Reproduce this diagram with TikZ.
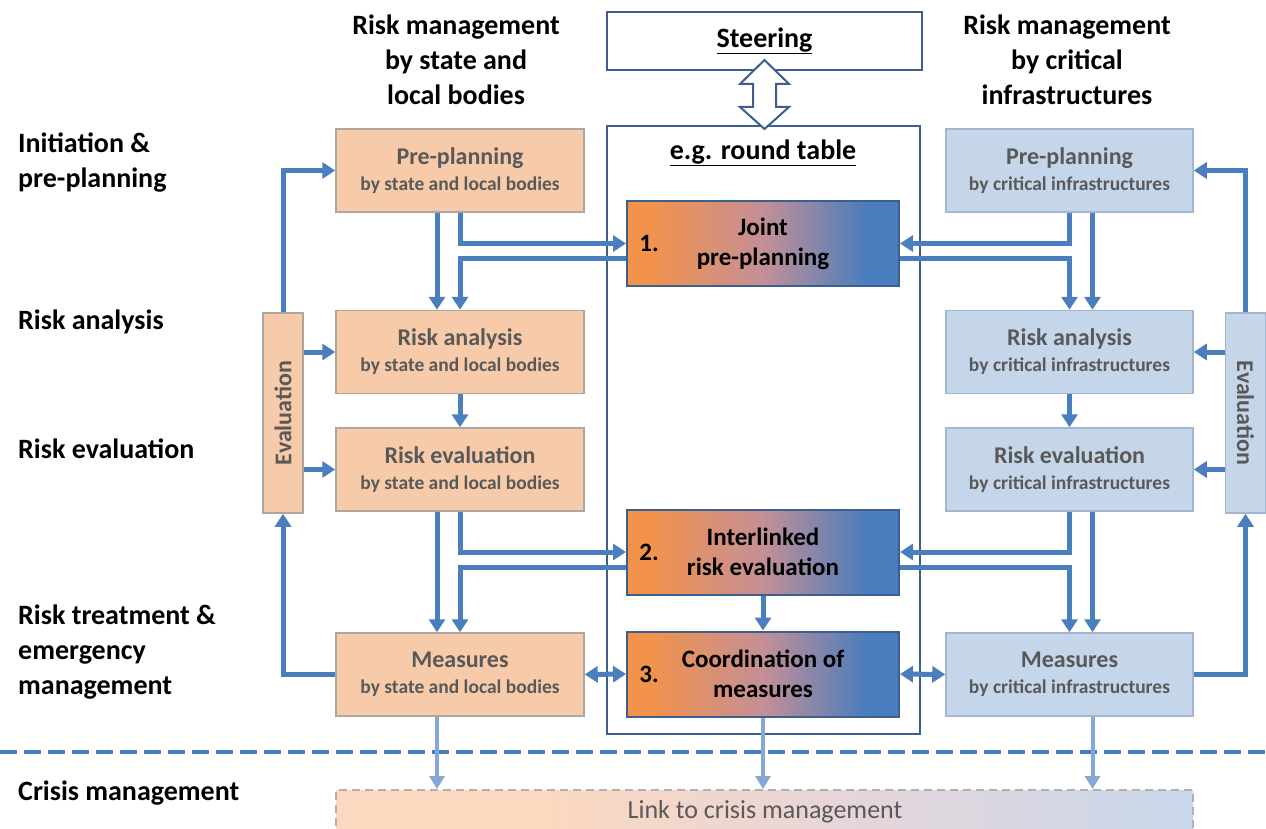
\documentclass[tikz,border=0pt]{standalone}
\usepackage{fontspec}
\usepackage{graphicx}
\setmainfont{Carlito}
\usetikzlibrary{arrows.meta,calc}

% palette
\definecolor{arrowBlue}{HTML}{4A7EBE}
\definecolor{lightArrow}{HTML}{86A8D5}
\definecolor{frameBlue}{HTML}{3C5F8E}
\definecolor{orFill}{HTML}{F7CBA9}
\definecolor{orBorder}{HTML}{ADA59F}
\definecolor{blFill}{HTML}{C5D5EA}
\definecolor{blBorder}{HTML}{A3B7D3}
\definecolor{boxText}{HTML}{595959}
\definecolor{gOrange}{HTML}{F3924A}
\definecolor{gMid}{HTML}{C48F97}
\definecolor{gBlue}{HTML}{4A7DBD}
\definecolor{lkOr}{HTML}{FBD8BF}
\definecolor{lkMid}{HTML}{E6D5DA}
\definecolor{lkBl}{HTML}{C8D7EA}
\definecolor{lkBorder}{HTML}{B0B0B0}

% orange-to-blue fill of the joint steps
\pgfdeclarehorizontalshading{jointgrad}{100bp}{color(0bp)=(gOrange); color(25bp)=(gOrange); color(29bp)=(gOrange); color(50bp)=(gMid); color(69bp)=(gBlue); color(75bp)=(gBlue); color(100bp)=(gBlue)}
% pale fill of the crisis-management link
\pgfdeclarehorizontalshading{linkgrad}{100bp}{color(0bp)=(lkOr); color(25bp)=(lkOr); color(37bp)=(lkOr); color(55bp)=(lkMid); color(75bp)=(lkBl); color(100bp)=(lkBl)}

\newcommand\lblfont{\fontsize{28}{35}\selectfont\bfseries}
\newcommand\ttlfont{\fontsize{24}{26}\selectfont\bfseries}
\newcommand\subfnt{\fontsize{19.5}{21}\selectfont\bfseries}
\newcommand\ctrfont{\fontsize{25}{30}\selectfont\bfseries}

\begin{document}
\begin{tikzpicture}[x=1pt,y=-1pt,
  frame/.style={draw=frameBlue, line width=2pt, fill=white, inner sep=0pt, font=\lblfont},
  frametitle/.style={inner sep=0pt, font=\lblfont},
  hdr/.style={align=center, inner sep=0pt, font=\lblfont},
  rowlbl/.style={align=left, anchor=west, inner sep=0pt, font=\lblfont},
  lbox/.style={draw=orBorder, line width=1.5pt, fill=orFill, minimum width=248pt,
    minimum height=83pt, inner sep=0pt, align=center, text=boxText, font=\ttlfont},
  rbox/.style={lbox, draw=blBorder, fill=blFill, minimum width=247pt},
  jbox/.style={draw=frameBlue, line width=2pt, shade, shading=jointgrad,
    minimum width=272pt, minimum height=85pt, inner sep=0pt, align=center, font=\ctrfont},
  num/.style={inner sep=0pt, font=\ctrfont},
  levbox/.style={draw=orBorder, line width=1.5pt, fill=orFill, minimum width=40pt,
    minimum height=200pt, inner sep=0pt, text=boxText, font=\ttlfont},
  revbox/.style={levbox, draw=blBorder, fill=blFill},
  linkbox/.style={draw=lkBorder, line width=2pt, dash pattern=on 8pt off 5pt,
    shade, shading=linkgrad, minimum width=857pt, minimum height=52pt, inner sep=0pt},
  linktext/.style={inner sep=0pt, text=boxText, font=\fontsize{26}{30}\selectfont},
  arr/.style={draw=arrowBlue, line width=5pt, -{Triangle[width=16pt,length=13pt]}},
  darr/.style={draw=arrowBlue, line width=5pt,
    {Triangle[width=16pt,length=13pt]}-{Triangle[width=16pt,length=13pt]}},
  larr/.style={draw=lightArrow, line width=4pt, -{Triangle[width=15pt,length=13pt]}},
  sep/.style={draw=arrowBlue, line width=4pt, dash pattern=on 17pt off 7pt},
  openarr/.style={draw=frameBlue, line width=2pt, fill=white, line join=miter}
]
\useasboundingbox (0,0) rectangle (1266,829);
\clip (0,0) rectangle (1266,829);

% round table and steering
\node[frame, minimum width=313pt, minimum height=608pt] (rt) at (763.5,430) {};
\node[frametitle] (rtt) at (763,153) {\underline{e.g. round table}};
\node[frame, minimum width=315pt, minimum height=58pt] (steer) at (764.5,41) {\underline{Steering}};

% column headers
\node[hdr] (hl) at (456,60) {Risk management\\by state and\\local bodies};
\node[hdr] (hr) at (1067,60) {Risk management\\by critical\\infrastructures};

% phase labels
\node[rowlbl] (p1) at (18,163) {Initiation \&\\pre-planning};
\node[rowlbl] (p2) at (18,322) {Risk analysis};
\node[rowlbl] (p3) at (18,449) {Risk evaluation};
\node[rowlbl] (p4) at (18,652) {Risk treatment \&\\emergency\\management};
\node[rowlbl] (p5) at (18,793) {Crisis management};

% state and local bodies
\node[lbox] (lpre) at (460,170.5) {Pre-planning\\{\subfnt by state and local bodies}};
\node[lbox] (lra)  at (460,352)   {Risk analysis\\{\subfnt by state and local bodies}};
\node[lbox] (lre)  at (460,469.5) {Risk evaluation\\{\subfnt by state and local bodies}};
\node[lbox] (lme)  at (460,674.5) {Measures\\{\subfnt by state and local bodies}};

% critical infrastructures
\node[rbox] (rpre) at (1069.5,170.5) {Pre-planning\\{\subfnt by critical infrastructures}};
\node[rbox] (rra)  at (1069.5,352)   {Risk analysis\\{\subfnt by critical infrastructures}};
\node[rbox] (rre)  at (1069.5,469.5) {Risk evaluation\\{\subfnt by critical infrastructures}};
\node[rbox] (rme)  at (1069.5,674.5) {Measures\\{\subfnt by critical infrastructures}};

% joint steps
\node[jbox] (joint) at (763,243.5) {Joint\\pre-planning};
\node[num] (n1) at ($(joint.west)+(23,0)$) {1.};
\node[jbox] (inter) at (763,552) {Interlinked\\risk evaluation};
\node[num] (n2) at ($(inter.west)+(23,0)$) {2.};
\node[jbox] (coord) at (763,674) {Coordination of\\measures};
\node[num] (n3) at ($(coord.west)+(23,0)$) {3.};

% evaluation loops
\node[levbox] (leval) at (283,413) {\rotatebox{90}{Evaluation}};
\node[revbox] (reval) at (1245.5,413) {\rotatebox{-90}{Evaluation}};

% crisis management link
\node[linkbox] (link) at (764.5,816) {};
\node[linktext] (linktxt) at (765,812) {Link to crisis management};

% flow, left column
\draw[arr] ($(lpre.south)+(-23,0)$) -- ($(lra.north)+(-23,0)$);
\draw[arr] (lpre.south) |- (joint.west);
\draw[arr] ($(joint.west)+(0,15)$) -| (lra.north);
\draw[arr] (lra) -- (lre);
\draw[arr] ($(lre.south)+(-23,0)$) -- ($(lme.north)+(-23,0)$);
\draw[arr] (lre.south) |- (inter.west);
\draw[arr] ($(inter.west)+(0,15)$) -| (lme.north);

% flow, right column
\draw[arr] ($(rpre.south)+(23,0)$) -- ($(rra.north)+(23,0)$);
\draw[arr] (rpre.south) |- (joint.east);
\draw[arr] ($(joint.east)+(0,15)$) -| (rra.north);
\draw[arr] (rra) -- (rre);
\draw[arr] ($(rre.south)+(23,0)$) -- ($(rme.north)+(23,0)$);
\draw[arr] (rre.south) |- (inter.east);
\draw[arr] ($(inter.east)+(0,15)$) -| (rme.north);

% flow, centre
\draw[arr] (inter) -- (coord);
\draw[darr] (lme.east) -- (coord.west);
\draw[darr] (coord.east) -- (rme.west);

% evaluation feedback
\draw[arr] (leval.north) |- (lpre.west);
\draw[arr] (leval.east |- lra.west) -- (lra.west);
\draw[arr] (leval.east |- lre.west) -- (lre.west);
\draw[arr] (lme.west) -| (leval.south);
\draw[arr] (reval.north) |- (rpre.east);
\draw[arr] (reval.west |- rra.east) -- (rra.east);
\draw[arr] (reval.west |- rre.east) -- (rre.east);
\draw[arr] (rme.east) -| (reval.south);

% boundary to crisis management
\coordinate (sepL) at (0,752);
\coordinate (sepR) at (1266,752);
\draw[sep] (sepL) -- (sepR);

\coordinate (lb1) at ($(lme.south)+(-23,0)$);
\coordinate (lb3) at ($(rme.south)+(23,0)$);
\draw[larr] (lb1) -- (lb1 |- link.north);
\draw[larr] (coord.south) -- (coord.south |- link.north);
\draw[larr] (lb3) -- (lb3 |- link.north);

% open double arrow between steering and round table
\coordinate (tipT) at ($(steer.south)+(0,-11)$);
\draw[openarr] (tipT) -- ++(24.5,24) -- ++(-13,0) -- ++(0,23) -- ++(13,0)
  -- ++(-24.5,22) -- ++(-24.5,-22) -- ++(13,0) -- ++(0,-23) -- ++(-13,0) -- cycle;
\end{tikzpicture}
\end{document}
